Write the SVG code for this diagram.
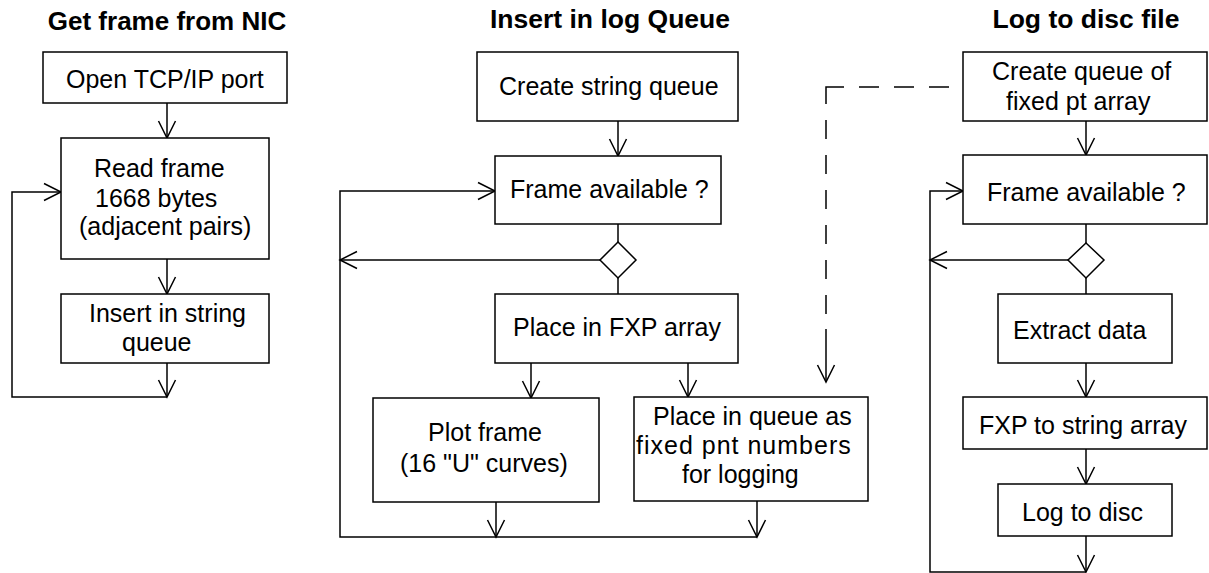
<svg xmlns="http://www.w3.org/2000/svg" width="1209" height="573" viewBox="0 0 1209 573">
<defs>
<style>
.box{fill:#fff;stroke:#000;stroke-width:1.5}
.ln{fill:none;stroke:#000;stroke-width:1.5}
.arr{fill:none;stroke:#000;stroke-width:1.5;marker-end:url(#ah)}
.dash{fill:none;stroke:#000;stroke-width:1.5}
.t{font-family:"Liberation Sans",Arial,sans-serif;font-size:25px;fill:#000}
.title{font-family:"Liberation Sans",Arial,sans-serif;font-size:26px;font-weight:bold;fill:#000;text-anchor:middle}
</style>
<marker id="ah" viewBox="0 0 20 20" refX="18" refY="10" markerWidth="20" markerHeight="20" markerUnits="userSpaceOnUse" orient="auto">
<path d="M1,1.5 L18,10 L1,18.5" fill="none" stroke="#000" stroke-width="1.5"/>
</marker>
</defs>
<rect width="1209" height="573" fill="#fff"/>

<g id="titles">
<text class="title" x="167" y="30">Get frame from NIC</text>
<text class="title" x="610" y="28" style="font-size:26.5px">Insert in log Queue</text>
<text class="title" x="1086" y="28" style="font-size:26.5px">Log to disc file</text>
</g>

<g id="connectors">
<!-- left column -->
<path class="arr" d="M167,103 V138"/>
<path class="arr" d="M167,259 V294"/>
<path class="arr" d="M167,363 V397"/>
<path class="arr" d="M167,397 H12 V192 H61"/>
<!-- middle column -->
<path class="arr" d="M618,121 V156"/>
<path class="ln" d="M618,224 V242"/>
<path class="arr" d="M600,260 H340"/>
<path class="ln" d="M618,278 V294"/>
<path class="arr" d="M531,363 V398"/>
<path class="arr" d="M688,363 V397"/>
<path class="arr" d="M496,502 V537"/>
<path class="arr" d="M757,501 V537"/>
<path class="arr" d="M757,537 H340 V191 H495"/>
<!-- right column -->
<path class="arr" d="M1086,121 V155"/>
<path class="ln" d="M1086,224 V243"/>
<path class="arr" d="M1068,260 H930"/>
<path class="ln" d="M1086,278 V294"/>
<path class="arr" d="M1086,363 V397"/>
<path class="arr" d="M1086,449 V484"/>
<path class="arr" d="M1086,536 V572"/>
<path class="arr" d="M1086,572 H930 V191 H963"/>
<!-- dashed link -->
<path class="dash" d="M949,87 H844" stroke-dasharray="20 15"/>
<path class="ln" d="M844,87 H826 V104"/>
<path class="dash" d="M826,120 V329" stroke-dasharray="19 16"/>
<path class="arr" d="M826,329 V382"/>
</g>

<g id="open-port">
<rect class="box" x="43" y="52" width="244" height="51"/>
<text class="t" x="66" y="88">Open TCP/IP port</text>
</g>
<g id="read-frame">
<rect class="box" x="61" y="138" width="208" height="121"/>
<text class="t" x="94" y="177">Read frame</text>
<text class="t" x="95" y="207">1668 bytes</text>
<text class="t" x="79" y="235">(adjacent pairs)</text>
</g>
<g id="insert-string-queue">
<rect class="box" x="61" y="294" width="208" height="69"/>
<text class="t" x="89" y="322">Insert in string</text>
<text class="t" x="122" y="351">queue</text>
</g>

<g id="create-string-queue">
<rect class="box" x="477" y="52" width="261" height="69"/>
<text class="t" x="499" y="95">Create string queue</text>
</g>
<g id="frame-available-1">
<rect class="box" x="495" y="156" width="226" height="68"/>
<text class="t" x="510" y="198">Frame available ?</text>
</g>
<g id="decision-1">
<polygon class="box" points="618,242 636,260 618,278 600,260"/>
</g>
<g id="place-fxp">
<rect class="box" x="495" y="294" width="243" height="69"/>
<text class="t" x="513" y="336">Place in FXP array</text>
</g>
<g id="plot-frame">
<rect class="box" x="373" y="398" width="226" height="104"/>
<text class="t" x="428" y="441">Plot frame</text>
<text class="t" x="400" y="472">(16 "U" curves)</text>
</g>
<g id="place-queue">
<rect class="box" x="634" y="397" width="234" height="104"/>
<text class="t" x="653" y="425">Place in queue as</text>
<text class="t" x="636" y="454" letter-spacing="1">fixed pnt numbers</text>
<text class="t" x="682" y="483">for logging</text>
</g>

<g id="create-fxp-queue">
<rect class="box" x="963" y="52" width="244" height="69"/>
<text class="t" x="992" y="80">Create queue of</text>
<text class="t" x="1006" y="110">fixed pt array</text>
</g>
<g id="frame-available-2">
<rect class="box" x="963" y="155" width="244" height="69"/>
<text class="t" x="987" y="201">Frame available ?</text>
</g>
<g id="decision-2">
<polygon class="box" points="1086,243 1104,260 1086,278 1068,260"/>
</g>
<g id="extract-data">
<rect class="box" x="998" y="294" width="174" height="69"/>
<text class="t" x="1013" y="339">Extract data</text>
</g>
<g id="fxp-to-string">
<rect class="box" x="963" y="397" width="244" height="52"/>
<text class="t" x="979" y="434">FXP to string array</text>
</g>
<g id="log-to-disc">
<rect class="box" x="998" y="484" width="174" height="52"/>
<text class="t" x="1022" y="521">Log to disc</text>
</g>
</svg>
